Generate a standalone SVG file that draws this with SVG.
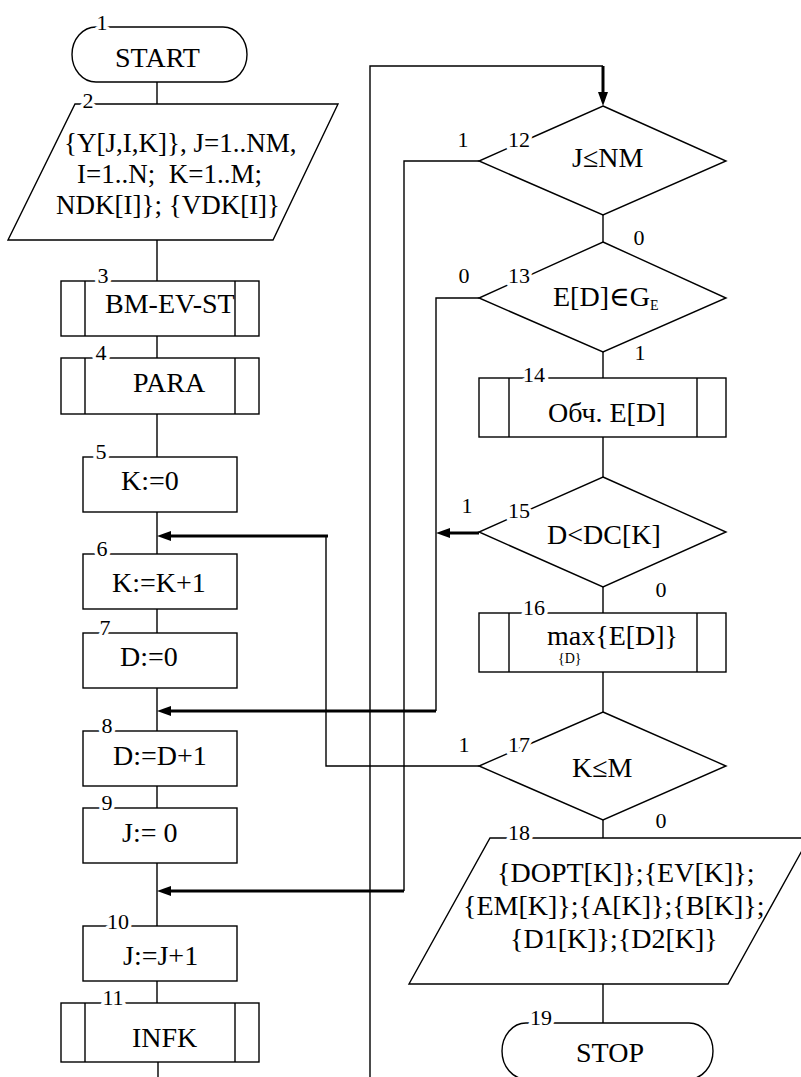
<svg xmlns="http://www.w3.org/2000/svg" width="801" height="1077" viewBox="0 0 801 1077">
<defs>
<style>
.s{fill:#fff;stroke:#000;stroke-width:1.4}
.l{fill:none;stroke:#000;stroke-width:1.4}
.t{fill:none;stroke:#000;stroke-width:3}
.tx{font-size:28px;fill:#000;white-space:pre}
.tp{font-size:27px;fill:#000;white-space:pre}
.n{font-size:22px;fill:#000;text-anchor:middle;stroke:#fff;stroke-width:7px;paint-order:stroke;stroke-linejoin:round}
.e{font-size:22px;fill:#000;text-anchor:middle}
.sm{font-size:14px;fill:#000}
</style>
<marker id="ah" markerUnits="userSpaceOnUse" markerWidth="16" markerHeight="12" refX="0" refY="5" orient="auto">
<path d="M0,0 L14,5 L0,10 z" fill="#000"/>
</marker>
</defs>
<rect width="801" height="1077" fill="#fff"/>
<g id="connectors">
<path class="l" d="M157,82V104M157,240V281M157,336V358M157,414V457M157,512V554M157,609V633M157,688V731M157,786V808M157,863V926M157,981V1003M158,1062V1077"/>
<path class="l" d="M603,215V242M603,352V378M603,437V477M603,587V613M603,672V712M603,820V838M603,984V1023"/>
<path class="l" d="M370,1077V66H603"/>
<path class="t" d="M603,66V92" marker-end="url(#ah)"/>
<path class="l" d="M479,161H404V891"/>
<path class="t" d="M404,891H171" marker-end="url(#ah)"/>
<path class="l" d="M479,298H436V711"/>
<path class="t" d="M436,711H171" marker-end="url(#ah)"/>
<path class="t" d="M479,533H450" marker-end="url(#ah)"/>
<path class="l" d="M479,766H326V536"/>
<path class="t" d="M328,536H171" marker-end="url(#ah)"/>
</g>
<g font-family="'Liberation Serif', 'Times New Roman', Times, 'DejaVu Serif', serif">
<g id="n1">
<rect class="s" x="72" y="27" width="175" height="55" rx="24" ry="27.5"/>
<text class="n" x="102" y="30">1</text>
<text class="tx" x="115" y="67">START</text>
</g>
<g id="n2">
<polygon class="s" points="75,104 338,104 273,240 8,240"/>
<text class="n" x="88" y="108">2</text>
<text class="tp" x="64" y="152">{Y[J,I,K]}, J=1..NM,</text>
<text class="tp" x="77" y="183">I=1..N;  K=1..M;</text>
<text class="tp" x="56" y="214">NDK[I]}; {VDK[I]}</text>
</g>
<g id="n3">
<rect class="s" x="61" y="281" width="198" height="55"/>
<path class="l" d="M85,281V336M235,281V336"/>
<text class="n" x="103" y="283">3</text>
<text class="tx" x="105" y="313">BM-EV-ST</text>
</g>
<g id="n4">
<rect class="s" x="61" y="358" width="198" height="56"/>
<path class="l" d="M85,358V414M235,358V414"/>
<text class="n" x="101" y="360">4</text>
<text class="tx" x="133" y="392">PARA</text>
</g>
<g id="n5">
<rect class="s" x="83" y="457" width="154" height="55"/>
<text class="n" x="101" y="459">5</text>
<text class="tx" x="121" y="490">K:=0</text>
</g>
<g id="n6">
<rect class="s" x="83" y="554" width="154" height="55"/>
<text class="n" x="102" y="556">6</text>
<text class="tx" x="112" y="592">K:=K+1</text>
</g>
<g id="n7">
<rect class="s" x="83" y="633" width="154" height="55"/>
<text class="n" x="105" y="635">7</text>
<text class="tx" x="120" y="666">D:=0</text>
</g>
<g id="n8">
<rect class="s" x="83" y="731" width="154" height="55"/>
<text class="n" x="107" y="733">8</text>
<text class="tx" x="113" y="765">D:=D+1</text>
</g>
<g id="n9">
<rect class="s" x="83" y="808" width="154" height="55"/>
<text class="n" x="107" y="810">9</text>
<text class="tx" x="122" y="842">J:= 0</text>
</g>
<g id="n10">
<rect class="s" x="83" y="926" width="154" height="55"/>
<text class="n" x="118" y="929">10</text>
<text class="tx" x="123" y="965">J:=J+1</text>
</g>
<g id="n11">
<rect class="s" x="61" y="1003" width="198" height="59"/>
<path class="l" d="M85,1003V1062M235,1003V1062"/>
<text class="n" x="113" y="1005">11</text>
<text class="tx" x="132" y="1047">INFK</text>
</g>
<g id="n12">
<polygon class="s" points="603,106 726,161 603,215 479,161"/>
<text class="n" x="519" y="147">12</text>
<text class="tx" x="572" y="167">J≤NM</text>
<text class="e" x="463" y="147">1</text>
<text class="e" x="639" y="245">0</text>
</g>
<g id="n13">
<polygon class="s" points="603,242 726,298 603,352 479,298"/>
<text class="n" x="519" y="283">13</text>
<text class="tx" x="553" y="306">E[D]∈G<tspan class="sm" dy="4">E</tspan></text>
<text class="e" x="464" y="283">0</text>
<text class="e" x="640" y="360">1</text>
</g>
<g id="n14">
<rect class="s" x="479" y="378" width="247" height="59"/>
<path class="l" d="M509,378V437M697,378V437"/>
<text class="n" x="534" y="382">14</text>
<text class="tx" x="548" y="422">Обч. E[D]</text>
</g>
<g id="n15">
<polygon class="s" points="603,477 726,532 603,587 479,532"/>
<text class="n" x="519" y="518">15</text>
<text class="tx" x="547" y="544">D&lt;DC[K]</text>
<text class="e" x="467" y="513">1</text>
<text class="e" x="661" y="597">0</text>
</g>
<g id="n16">
<rect class="s" x="479" y="613" width="247" height="59"/>
<path class="l" d="M509,613V672M697,613V672"/>
<text class="n" x="534" y="615">16</text>
<text class="tx" x="547" y="645">max{E[D]}</text>
<text class="sm" x="558" y="663">{D}</text>
</g>
<g id="n17">
<polygon class="s" points="603,712 726,766 603,820 479,766"/>
<text class="n" x="519" y="752">17</text>
<text class="tx" x="572" y="777">K≤M</text>
<text class="e" x="464" y="752">1</text>
<text class="e" x="661" y="828">0</text>
</g>
<g id="n18">
<polygon class="s" points="490,838 809,838 728,984 409,984"/>
<text class="n" x="519" y="840">18</text>
<text class="tx" x="497" y="882">{DOPT[K]};{EV[K]};</text>
<text class="tx" x="463" y="915">{EM[K]};{A[K]};{B[K]};</text>
<text class="tx" x="510" y="948">{D1[K]};{D2[K]}</text>
</g>
<g id="n19">
<rect class="s" x="502" y="1023" width="211" height="56" rx="24" ry="28"/>
<text class="n" x="541" y="1025">19</text>
<text class="tx" x="576" y="1062">STOP</text>
</g>
</g>
</svg>
